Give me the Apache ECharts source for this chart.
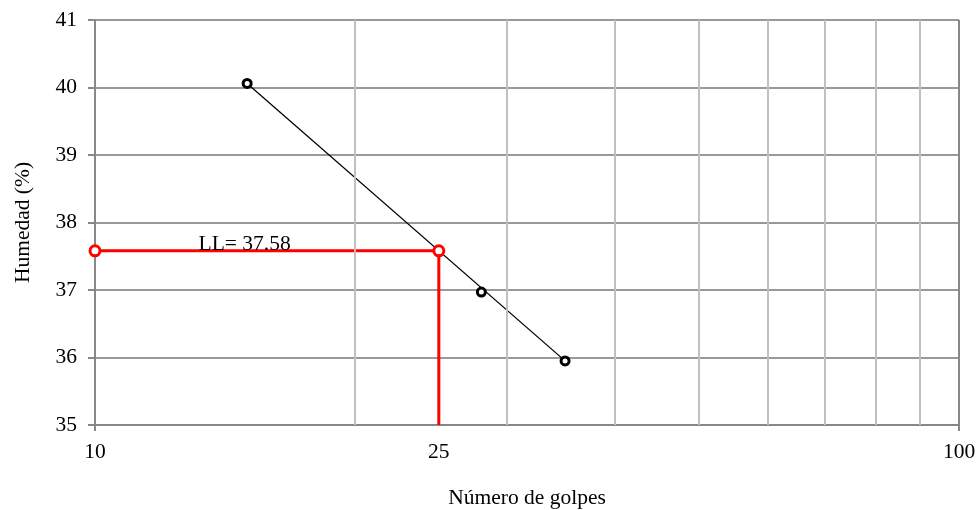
<!DOCTYPE html>
<html><head><meta charset="utf-8">
<script src="https://cdn.jsdelivr.net/npm/echarts@6/dist/echarts.min.js"></script>
<style>html,body{margin:0;padding:0;background:#fff}#c{width:976px;height:510px}</style>
</head><body><div id="c"></div>
<script>
// Data
const golpes = [15, 28, 35];
const humedad = [40.06, 36.97, 35.95];
const trendGolpes = [15, 35];
const trendHumedad = [40.06, 35.95];
const llGolpes = 25;
const llValue = 37.58;
const xTickLabels = [10, 25, 100];
const minorGridGolpes = [20, 30, 40, 50, 60, 70, 80, 90];
const yMin = 35, yMax = 41, xMin = 10, xMax = 100;

const FONT = "'Liberation Serif', 'Times New Roman', serif";
const chart = echarts.init(document.getElementById('c'), null, {renderer: 'canvas'});

const pts = golpes.map((g, i) => [g, humedad[i]]);
const trend = trendGolpes.map((g, i) => [g, trendHumedad[i]]);
const llPath = [
  {value: [xMin, llValue], label: {show: true, formatter: 'LL= ' + llValue.toFixed(2), position: 'right', distance: 5, offset: [92, -6], color: '#000', fontFamily: FONT, fontSize: 21.5}},
  {value: [llGolpes, llValue]},
  {value: [llGolpes, yMin], symbol: 'none'}
];

chart.setOption({
  animation: false,
  backgroundColor: '#fff',
  grid: {left: 95, right: 17, top: 20, bottom: 85, containLabel: false, outerBoundsMode: 'none'},
  xAxis: {
    type: 'log', logBase: 10, min: xMin, max: xMax,
    name: 'Número de golpes', nameLocation: 'middle', nameGap: 62,
    nameTextStyle: {fontFamily: FONT, fontSize: 21.5, color: '#000'},
    axisLine: {show: true, lineStyle: {color: '#888', width: 2}},
    axisTick: {show: true, length: 6, lineStyle: {color: '#888', width: 2}},
    axisLabel: {customValues: xTickLabels, fontFamily: FONT, fontSize: 21.5, color: '#000', margin: 16},
    splitLine: {show: true, lineStyle: {color: '#888', width: 2}}
  },
  yAxis: {
    type: 'value', min: yMin, max: yMax, interval: 1,
    name: 'Humedad (%)', nameLocation: 'middle', nameGap: 61,
    nameTextStyle: {fontFamily: FONT, fontSize: 21.5, color: '#000'},
    axisLine: {show: true, lineStyle: {color: '#888', width: 2}},
    axisTick: {show: true, length: 7, lineStyle: {color: '#888', width: 2}},
    axisLabel: {fontFamily: FONT, fontSize: 21.5, color: '#000', margin: 18},
    splitLine: {show: true, lineStyle: {color: '#999', width: 2}}
  },
  series: [
    {
      type: 'line', data: trend, symbol: 'none', z: 3,
      lineStyle: {color: '#000', width: 1.3},
      markLine: {
        silent: true, symbol: 'none', label: {show: false},
        lineStyle: {color: '#c0c0c0', width: 2, type: 'solid'},
        data: minorGridGolpes.map(v => ({xAxis: v}))
      }
    },
    {
      type: 'line', data: llPath, z: 4,
      symbol: 'circle', symbolSize: 10, showAllSymbol: true,
      lineStyle: {color: '#ff0000', width: 3},
      itemStyle: {color: '#fff', borderColor: '#ff0000', borderWidth: 3}
    },
    {
      type: 'scatter', data: pts, z: 5,
      symbol: 'circle', symbolSize: 8,
      itemStyle: {color: '#fff', borderColor: '#000', borderWidth: 3, opacity: 1}
    }
  ]
});
</script></body></html>
